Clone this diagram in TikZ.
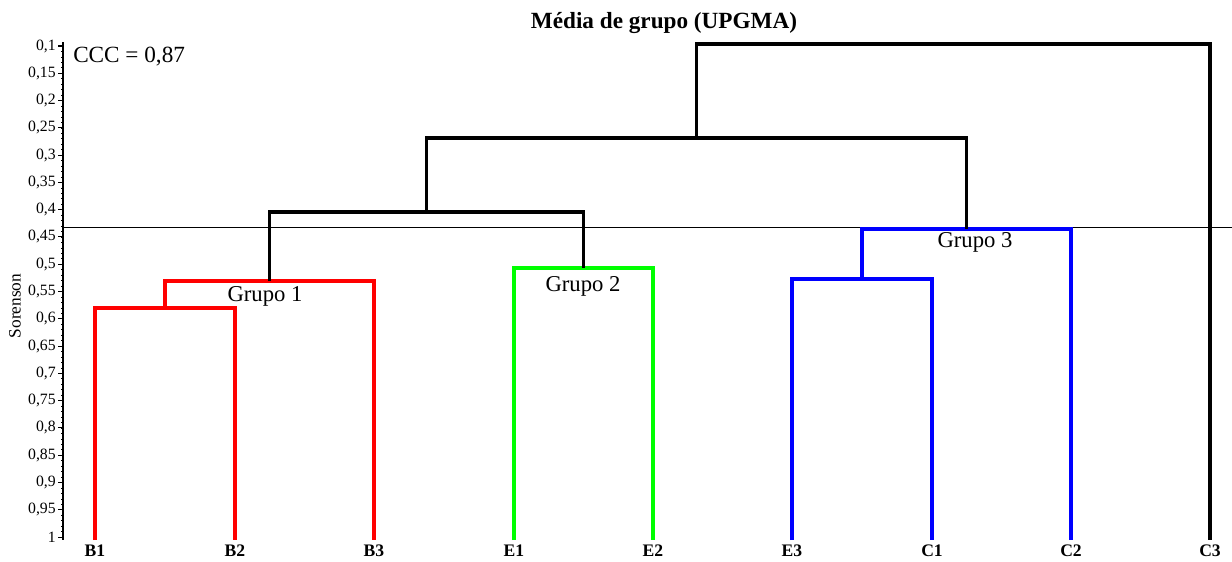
\documentclass[tikz,border=0pt]{standalone}
\usepackage{fontspec}
\setmainfont{Liberation Serif}
\definecolor{gred}{RGB}{255,0,0}
\definecolor{ggreen}{RGB}{0,255,0}
\definecolor{gblue}{RGB}{0,0,255}
\begin{document}
\begin{tikzpicture}[x=0.75pt,y=-0.75pt,
  branch/.style={line width=2.4pt, line join=miter},
  leaflab/.style={font=\bfseries\fontsize{13.2}{14}\selectfont, anchor=center},
  grouplab/.style={font=\fontsize{17}{18}\selectfont, anchor=center},
  ticklab/.style={font=\fontsize{11.8}{12}\selectfont, anchor=east, inner sep=0pt}]
\useasboundingbox (0,0) rectangle (1232,561);
% title and annotation
\node[font=\bfseries\fontsize{17.4}{19}\selectfont] (title) at (664,23) {Média de grupo (UPGMA)};
\node[font=\fontsize{17.4}{19}\selectfont, anchor=west, inner sep=0pt] (ccc) at (73,57) {CCC = 0,87};
\node[font=\fontsize{13}{14}\selectfont, rotate=90] (ylab) at (15,306) {Sorenson};
% axis
\coordinate (axtop) at (63,42);
\coordinate (axbot) at (63,540);
\draw[line width=1.6pt] (axtop) -- (axbot);
\foreach \i in {0,...,90} \draw[line width=0.5pt] (61,{46+\i*5.456}) -- (63,{46+\i*5.456});
\foreach \k/\lab in {0/{0,1},1/{0,15},2/{0,2},3/{0,25},4/{0,3},5/{0,35},6/{0,4},7/{0,45},8/{0,5},9/{0,55},10/{0,6},11/{0,65},12/{0,7},13/{0,75},14/{0,8},15/{0,85},16/{0,9},17/{0,95},18/{1}}{
  \draw[line width=0.8pt] (58,{46+\k*27.28}) -- (63,{46+\k*27.28});
  \node[ticklab] at (56,{46+\k*27.28}) {\lab};
}
% cut line
\coordinate (cutL) at (63,227);
\coordinate (cutR) at (1232,227);
\draw[line width=0.7pt] (cutL) -- (cutR);
% leaves
\coordinate (B1) at (95,540);
\coordinate (B2) at (235,540);
\coordinate (B3) at (374,540);
\coordinate (E1) at (514,540);
\coordinate (E2) at (653,540);
\coordinate (E3) at (792,540);
\coordinate (C1) at (932,540);
\coordinate (C2) at (1071,540);
\coordinate (C3) at (1210,540);
\foreach \n in {B1,B2,B3,E1,E2,E3,C1,C2,C3}
  \node[leaflab] (lab\n) at ([yshift=-8]\n) {\n};
% merge points
\coordinate (mB12) at (165,308);
\coordinate (mG1) at (269.5,281);
\coordinate (mG2) at (583.5,268);
\coordinate (mEC) at (862,279);
\coordinate (mG3) at (966.5,229);
\coordinate (mG12) at (426.5,212);
\coordinate (mAll) at (696.5,138);
\coordinate (mRoot) at (953,44);
% group 1
\draw[branch, gred] (B1) |- (mB12) -| (B2);
\draw[branch, gred] (mB12) |- (mG1) -| (B3);
% group 2
\draw[branch, ggreen] (E1) |- (mG2) -| (E2);
% group 3
\draw[branch, gblue] (E3) |- (mEC) -| (C1);
\draw[branch, gblue] (mEC) |- (mG3) -| (C2);
% upper
\draw[branch] (mG1) |- (mG12) -| (mG2);
\draw[branch] (mG12) |- (mAll) -| (mG3);
\draw[branch] (mAll) |- (mRoot) -| (C3);
% group labels
\node[grouplab] (g1) at (265,296) {Grupo 1};
\node[grouplab] (g2) at (583,286) {Grupo 2};
\node[grouplab] (g3) at (975,242) {Grupo 3};
\end{tikzpicture}
\end{document}
